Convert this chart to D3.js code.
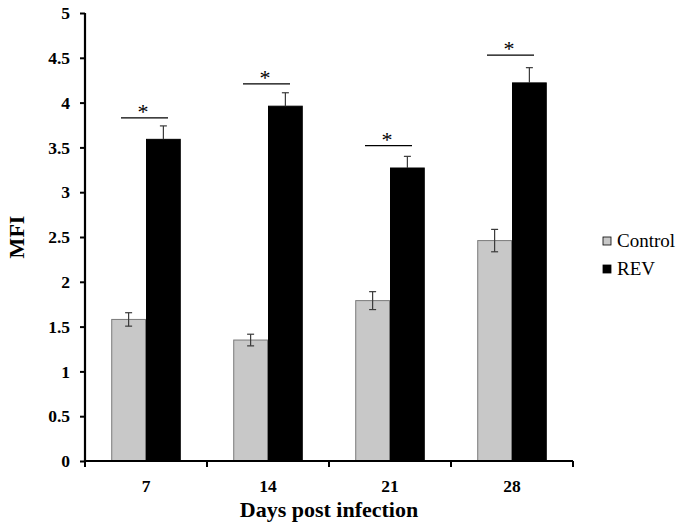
<!DOCTYPE html>
<html>
<head>
<meta charset="utf-8">
<script src="https://cdn.jsdelivr.net/npm/d3@7"></script>
<style>
  body { margin: 0; background: #fff; }
  svg text { font-family: "Liberation Serif", "Times New Roman", serif; }
</style>
</head>
<body>
<svg id="chart"></svg>
<script>
var days = ['7', '14', '21', '28'];
var series = ['Control', 'REV'];
var control = [1.58, 1.35, 1.79, 2.46];
var controlErr = [0.075, 0.065, 0.10, 0.125];
var rev = [3.59, 3.96, 3.27, 4.22];
var revErr = [0.15, 0.15, 0.13, 0.17];
var sigLevel = [3.83, 4.21, 3.52, 4.53];
var yTicks = [0, 0.5, 1, 1.5, 2, 2.5, 3, 3.5, 4, 4.5, 5];

var width = 683, height = 528;
var margin = {left: 85, right: 110, top: 13, bottom: 67};

var svg = d3.select('#chart')
  .attr('width', width)
  .attr('height', height);

var x = d3.scaleBand()
  .domain(days)
  .range([margin.left, width - margin.right])
  .paddingInner(0.43)
  .paddingOuter(0.215);

var xs = d3.scaleBand()
  .domain(series)
  .range([0, x.bandwidth()]);

var y = d3.scaleLinear()
  .domain([0, 5])
  .range([height - margin.bottom, margin.top]);

var colors = {Control: '#c8c8c8', REV: '#000000'};
var strokes = {Control: '#7a7a7a', REV: '#000000'};

var rows = days.map(function(d, i) {
  return [
    {day: d, key: 'Control', v: control[i], e: controlErr[i]},
    {day: d, key: 'REV', v: rev[i], e: revErr[i]}
  ];
});
var flat = [].concat.apply([], rows);

function cx(d) { return x(d.day) + xs(d.key) + xs.bandwidth() / 2; }

// bars
svg.selectAll('rect.bar')
  .data(flat)
  .enter()
  .append('rect')
  .attr('class', 'bar')
  .attr('x', function(d) { return x(d.day) + xs(d.key) + 0.5; })
  .attr('y', function(d) { return y(d.v); })
  .attr('width', xs.bandwidth() - 1)
  .attr('height', function(d) { return y(0) - y(d.v); })
  .attr('fill', function(d) { return colors[d.key]; })
  .attr('stroke', function(d) { return strokes[d.key]; })
  .attr('stroke-width', 1);

// error bars
var errG = svg.selectAll('g.err')
  .data(flat)
  .enter()
  .append('g')
  .attr('class', 'err')
  .attr('stroke', '#3a3a3a')
  .attr('stroke-width', 1.2);
errG.append('line')
  .attr('x1', cx)
  .attr('x2', cx)
  .attr('y1', function(d) { return y(d.v + d.e); })
  .attr('y2', function(d) { return d.key == 'REV' ? y(d.v) : y(d.v - d.e); });
errG.append('line')
  .attr('x1', function(d) { return cx(d) - 3.5; })
  .attr('x2', function(d) { return cx(d) + 3.5; })
  .attr('y1', function(d) { return y(d.v + d.e); })
  .attr('y2', function(d) { return y(d.v + d.e); });
errG.filter(function(d) { return d.key == 'Control'; })
  .append('line')
  .attr('x1', function(d) { return cx(d) - 3.5; })
  .attr('x2', function(d) { return cx(d) + 3.5; })
  .attr('y1', function(d) { return y(d.v - d.e); })
  .attr('y2', function(d) { return y(d.v - d.e); });

// significance markers
var sig = svg.selectAll('g.sig')
  .data(days)
  .enter()
  .append('g')
  .attr('class', 'sig');
sig.append('line')
  .attr('x1', function(d) { return x(d) + x.bandwidth() / 2 - 25; })
  .attr('x2', function(d) { return x(d) + x.bandwidth() / 2 + 22; })
  .attr('y1', function(d, i) { return y(sigLevel[i]); })
  .attr('y2', function(d, i) { return y(sigLevel[i]); })
  .attr('stroke', '#000')
  .attr('stroke-width', 1.2);
sig.append('text')
  .attr('x', function(d) { return x(d) + x.bandwidth() / 2 - 3; })
  .attr('y', function(d, i) { return y(sigLevel[i]) + 1; })
  .attr('text-anchor', 'middle')
  .style('font-size', '22px')
  .text('*');

// y axis
var yAxis = svg.append('g')
  .attr('transform', 'translate(' + margin.left + ',0)')
  .call(d3.axisLeft(y).tickValues(yTicks).tickSize(5).tickPadding(10).tickFormat(d3.format('')));
yAxis.attr('font-family', '"Liberation Serif", serif');
yAxis.select('.domain').attr('stroke-width', 2.2).attr('d', 'M0,' + y(5) + 'V' + y(0));
yAxis.selectAll('.tick line').attr('stroke-width', 2);
yAxis.selectAll('.tick text')
  .style('font-size', '17.5px')
  .style('font-weight', 'bold');

// x axis
var xAxis = svg.append('g')
  .attr('transform', 'translate(0,' + y(0) + ')')
  .call(d3.axisBottom(x).tickSize(0).tickPadding(19));
xAxis.attr('font-family', '"Liberation Serif", serif');
xAxis.select('.domain').attr('stroke-width', 2.2)
  .attr('d', 'M' + margin.left + ',0H' + (width - margin.right));
xAxis.selectAll('.tick text')
  .style('font-size', '17.5px')
  .style('font-weight', 'bold');
var step = x.step();
xAxis.selectAll('line.sep')
  .data(d3.range(days.length + 1))
  .enter()
  .append('line')
  .attr('class', 'sep')
  .attr('x1', function(i) { return margin.left + i * step; })
  .attr('x2', function(i) { return margin.left + i * step; })
  .attr('y1', 0)
  .attr('y2', 6)
  .attr('stroke', '#000')
  .attr('stroke-width', 2);

// axis titles
svg.append('text')
  .attr('x', (margin.left + width - margin.right) / 2)
  .attr('y', 517)
  .attr('text-anchor', 'middle')
  .style('font-size', '22px')
  .style('font-weight', 'bold')
  .text('Days post infection');

svg.append('text')
  .attr('transform', 'translate(24,' + 237 + ') rotate(-90)')
  .attr('text-anchor', 'middle')
  .style('font-size', '22px')
  .style('font-weight', 'bold')
  .text('MFI');

// legend
var legend = svg.selectAll('g.legend')
  .data(series)
  .enter()
  .append('g')
  .attr('class', 'legend')
  .attr('transform', function(d, i) { return 'translate(603,' + (237 + i * 28) + ')'; });
legend.append('rect')
  .attr('width', 8)
  .attr('height', 8)
  .attr('fill', function(d) { return colors[d]; })
  .attr('stroke', '#000')
  .attr('stroke-width', 0.8);
legend.append('text')
  .attr('x', 14)
  .attr('y', 10)
  .style('font-size', '19px')
  .text(function(d) { return d; });
</script>
</body>
</html>
